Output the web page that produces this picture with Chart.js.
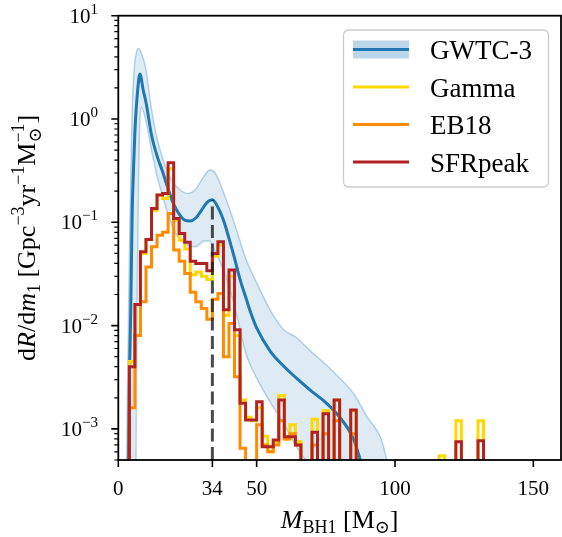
<!DOCTYPE html>
<html>
<head>
<meta charset="utf-8">
<script src="https://cdn.jsdelivr.net/npm/chart.js@4.4.0/dist/chart.umd.min.js"></script>
<style>
  html, body { margin: 0; padding: 0; background: #fff; }
  canvas { display: block; }
</style>
</head>
<body>
<canvas id="massChart" width="562" height="537" style="width:562px;height:537px"></canvas>
<script>
// histogram bin edges (M_sun), 2 M_sun wide
const binEdges = [4, 6, 8, 10, 12, 14, 16, 18, 20, 22, 24, 26, 28, 30, 32, 34, 36, 38, 40, 42,
    44, 46, 48, 50, 52, 54, 56, 58, 60, 62, 64, 66, 68, 70, 72, 74, 76, 78, 80, 82,
    84, 86, 88, 90, 92, 94, 96, 98, 100, 102, 104, 106, 108, 110, 112, 114, 116, 118, 120, 122,
    124, 126, 128, 130, 132];

const gammaRate = [0.0045, 0.016, 0.05, 0.068, 0.13, 0.184, 0.17, 0.33, 0.105, 0.067,
    0.055, 0.031, 0.033, 0.030, 0.028, 0.047, 0.060, 0.0125, 0.030, 0.008,
    0.0019, 0.0013, 0.0012, 0.0016, 0.00085, 0.0006, 0.00075, 0.0021, 0.0008, 0.0011,
    0.00075, 0, 0, 0.00124, 0, 0.0015, 0, 0.0019, 0, 0,
    0.0015, 0, 0, 0, 0, 0, 0, 0, 0, 0,
    0, 0, 0, 0, 0, 0, 0.00055, 0, 0, 0.0012,
    0, 0, 0, 0.0012];

const eb18Rate = [0.0016, 0.008, 0.017, 0.037, 0.058, 0.075, 0.08, 0.122, 0.054, 0.042,
    0.032, 0.021, 0.017, 0.0146, 0.0115, 0.018, 0.0205, 0.005, 0.0105, 0.0032,
    0.00065, 0, 0, 0.0011, 0.0007, 0.0006, 0.0007, 0.0012, 0.0008, 0.0009,
    0.0007, 0, 0, 0.0007, 0, 0.0009, 0, 0.0012, 0, 0,
    0.0009, 0, 0, 0, 0, 0, 0, 0, 0, 0,
    0, 0, 0, 0, 0, 0, 0, 0, 0, 0,
    0, 0, 0, 0];

const sfrRate = [0.004, 0.016, 0.052, 0.068, 0.136, 0.184, 0.19, 0.377, 0.109, 0.078,
    0.064, 0.042, 0.040, 0.040, 0.034, 0.050, 0.065, 0.0142, 0.0345, 0.0091,
    0.00177, 0.00122, 0.00122, 0.00183, 0.00067, 0.00067, 0.00078, 0.0019, 0.00084, 0.00084,
    0.0007, 0, 0, 0.00093, 0, 0.0014, 0, 0.0019, 0, 0,
    0.00152, 0, 0, 0, 0, 0, 0, 0, 0, 0,
    0, 0, 0, 0, 0, 0, 0, 0, 0, 0.00075,
    0, 0, 0, 0.00077];

// GWTC-3 median and 90% band
const medianMass = [3.6, 4, 4.5, 5, 5.5, 6, 7, 7.8, 9, 10, 12, 14, 16, 18, 20, 22, 24, 26, 28, 30,
    32, 34, 36, 38, 40, 42, 44, 46, 48, 50, 55, 60, 65, 70, 75, 80, 85, 88];
const medianRate = [0.0004, 0.003, 0.014, 0.12, 0.33, 0.75, 1.9, 2.73, 1.9, 1.45, 0.7, 0.44, 0.31, 0.21, 0.15, 0.12, 0.105, 0.103, 0.11, 0.13,
    0.155, 0.165, 0.14, 0.105, 0.07, 0.045, 0.028, 0.019, 0.013, 0.0095, 0.0056, 0.004, 0.003, 0.0023, 0.0018, 0.0013, 0.0008, 0.00045];

const bandMass = [3, 4, 5, 6, 6.4, 7, 7.5, 8.4, 10, 12, 14, 16, 18, 20, 22, 25, 28, 31, 33, 35,
    37, 40, 43, 46, 50, 55, 60, 64, 68, 70, 75, 80, 85, 90, 95, 97.5];
const bandHigh = [0.00045, 0.05, 1.2, 3.6, 4.2, 4.8, 4.8, 4.3, 3.0, 1.25, 0.65, 0.42, 0.3, 0.24, 0.21, 0.19, 0.21, 0.28, 0.32, 0.3,
    0.23, 0.14, 0.08, 0.045, 0.026, 0.014, 0.009, 0.0078, 0.0062, 0.0055, 0.0042, 0.0031, 0.0022, 0.0013, 0.0008, 0.00045];
const bandLow = [1e-7, 1e-7, 1e-7, 1e-7, 0.0005, 0.05, 0.5, 1.3, 0.95, 0.5, 0.28, 0.18, 0.12, 0.085, 0.07, 0.06, 0.058, 0.066, 0.066, 0.052,
    0.04, 0.024, 0.012, 0.0055, 0.0031, 0.0018, 0.0011, 0.0007, 0.0005, 0.0004, 1e-7, 1e-7, 1e-7, 1e-7, 1e-7, 1e-7];

// dashed marker at 34 M_sun
const markerMass = [34, 34];
const markerRate = [0.0005, 0.165];

const xTicks = [0, 34, 50, 100, 150];
const yTicks = [1e-3, 1e-2, 1e-1, 1, 10];
const yTickExp = ['\u22123', '\u22122', '\u22121', '0', '1'];

const SERIF = '"Liberation Serif", "DejaVu Serif", serif';
const OFF = 1e-7;

function stepPoints(edges, vals) {
    let pts = [{x: edges[0], y: OFF}];
    for (let i = 0; i < vals.length; i++) {
        pts.push({x: edges[i], y: vals[i] > 0 ? vals[i] : OFF});
    }
    pts.push({x: edges[edges.length - 1], y: OFF});
    return pts;
}
function zip(xs, ys) {
    return xs.map((x, i) => ({x: x, y: ys[i]}));
}

function fontOf(p) {
    return (p.italic ? 'italic ' : '') + p.size + 'px ' + SERIF;
}
function drawRich(ctx, parts, x, y, align) {
    let total = 0;
    parts.forEach(p => {
        ctx.font = fontOf(p);
        p.w = ctx.measureText(p.t).width;
        if (p.over) {
            ctx.font = fontOf({size: p.size});
            p.w = Math.max(p.w, ctx.measureText(p.over).width);
        }
        total += p.w;
    });
    let cx = align === 'center' ? x - total / 2 : (align === 'right' ? x - total : x);
    ctx.textAlign = 'left';
    ctx.textBaseline = 'alphabetic';
    parts.forEach(p => {
        ctx.font = fontOf(p);
        ctx.fillText(p.t, cx, y + (p.dy || 0));
        if (p.over) {
            ctx.font = fontOf({size: p.size});
            ctx.fillText(p.over, cx, y + p.overDy);
        }
        cx += p.w;
    });
}

const axisFrame = {
    id: 'axisFrame',
    afterDatasetsDraw(chart) {
        const ctx = chart.ctx, a = chart.chartArea;
        const xs = chart.scales.x, ys = chart.scales.y;
        ctx.save();
        ctx.strokeStyle = '#000';
        ctx.fillStyle = '#000';

        // major ticks
        ctx.lineWidth = 1.6;
        ctx.beginPath();
        xTicks.forEach(v => {
            const px = xs.getPixelForValue(v);
            ctx.moveTo(px, a.bottom);
            ctx.lineTo(px, a.bottom + 7);
        });
        yTicks.forEach(v => {
            const py = ys.getPixelForValue(v);
            ctx.moveTo(a.left, py);
            ctx.lineTo(a.left - 7, py);
        });
        ctx.stroke();

        // minor log ticks
        ctx.lineWidth = 1.2;
        ctx.beginPath();
        for (let e = -4; e <= 0; e++) {
            for (let m = 2; m <= 9; m++) {
                const v = m * Math.pow(10, e);
                if (v < ys.min * 0.999 || v > ys.max) continue;
                const py = ys.getPixelForValue(v);
                ctx.moveTo(a.left, py);
                ctx.lineTo(a.left - 4, py);
            }
        }
        ctx.stroke();

        // frame
        ctx.lineWidth = 1.8;
        ctx.strokeRect(a.left, a.top, a.right - a.left, a.bottom - a.top);

        // tick labels
        ctx.textAlign = 'center';
        ctx.textBaseline = 'alphabetic';
        ctx.font = '21px ' + SERIF;
        xTicks.forEach(v => {
            ctx.fillText(String(v), xs.getPixelForValue(v), 495);
        });
        yTicks.forEach((v, i) => {
            const py = ys.getPixelForValue(v);
            drawRich(ctx, [
                {t: '10', size: 21},
                {t: yTickExp[i], size: 15, dy: -9}
            ], 98, py + 7, 'right');
        });

        // axis titles
        drawRich(ctx, [
            {t: 'M', size: 26, italic: true},
            {t: 'BH1', size: 18, dy: 5},
            {t: ' [M', size: 26},
            {t: '\u2299', size: 18, dy: 5},
            {t: ']', size: 26}
        ], (a.left + a.right) / 2, 528, 'center');

        ctx.save();
        ctx.translate(35, (a.top + a.bottom) / 2);
        ctx.rotate(-Math.PI / 2);
        drawRich(ctx, [
            {t: 'd', size: 26},
            {t: 'R', size: 26, italic: true},
            {t: '/d', size: 26},
            {t: 'm', size: 26, italic: true},
            {t: '1', size: 18, dy: 5},
            {t: ' [Gpc', size: 26},
            {t: '\u22123', size: 18, dy: -11},
            {t: 'yr', size: 26},
            {t: '\u22121', size: 18, dy: -11},
            {t: 'M', size: 26},
            {t: '\u2299', size: 18, dy: 6, over: '\u22121', overDy: -11},
            {t: ']', size: 26}
        ], 0, 0, 'center');
        ctx.restore();
        ctx.restore();
    },
    afterDraw(chart) {
        const ctx = chart.ctx;
        ctx.save();
        // legend box
        const bx = 343.5, by = 30, bw = 205, bh = 157;
        ctx.beginPath();
        ctx.roundRect(bx, by, bw, bh, 5);
        ctx.fillStyle = 'rgba(255,255,255,0.8)';
        ctx.fill();
        ctx.strokeStyle = '#cccccc';
        ctx.lineWidth = 1.3;
        ctx.stroke();

        const rows = [
            {label: 'GWTC-3', color: '#1f77b4', band: true},
            {label: 'Gamma', color: '#ffd700'},
            {label: 'EB18', color: '#ff8c00'},
            {label: 'SFRpeak', color: '#b22222'}
        ];
        const x0 = 353, x1 = 409;
        rows.forEach((r, i) => {
            const y = 49.5 + i * 37.5;
            if (r.band) {
                ctx.fillStyle = 'rgba(31,119,180,0.3)';
                ctx.fillRect(x0, y - 9, x1 - x0, 18);
            }
            ctx.strokeStyle = r.color;
            ctx.lineWidth = 3;
            ctx.beginPath();
            ctx.moveTo(x0, y);
            ctx.lineTo(x1, y);
            ctx.stroke();
            ctx.fillStyle = '#000';
            ctx.font = '27px ' + SERIF;
            ctx.textAlign = 'left';
            ctx.textBaseline = 'alphabetic';
            ctx.fillText(r.label, 430, y + 9.5);
        });
        ctx.restore();
    }
};

const ctx = document.getElementById('massChart').getContext('2d');

const lineBase = {
    pointRadius: 0,
    pointHoverRadius: 0,
    fill: false
};

const myChart = new Chart(ctx, {
    type: 'line',
    data: {
        datasets: [
            Object.assign({}, lineBase, {
                label: 'GWTC-3 upper',
                data: zip(bandMass, bandHigh),
                borderColor: 'rgba(31,119,180,0.3)',
                borderWidth: 1.5,
                backgroundColor: 'rgba(31,119,180,0.15)',
                fill: '+1',
                cubicInterpolationMode: 'monotone',
                order: 7
            }),
            Object.assign({}, lineBase, {
                label: 'GWTC-3 lower',
                data: zip(bandMass, bandLow),
                borderColor: 'rgba(31,119,180,0.3)',
                borderWidth: 1.5,
                cubicInterpolationMode: 'monotone',
                order: 7
            }),
            Object.assign({}, lineBase, {
                label: 'GWTC-3',
                data: zip(medianMass, medianRate),
                borderColor: '#1f77b4',
                borderWidth: 3,
                cubicInterpolationMode: 'monotone',
                order: 6
            }),
            Object.assign({}, lineBase, {
                label: 'Gamma',
                data: stepPoints(binEdges, gammaRate),
                borderColor: '#ffd700',
                borderWidth: 3,
                stepped: true,
                order: 5
            }),
            Object.assign({}, lineBase, {
                label: 'EB18',
                data: stepPoints(binEdges, eb18Rate),
                borderColor: '#ff8c00',
                borderWidth: 3,
                stepped: true,
                order: 4
            }),
            Object.assign({}, lineBase, {
                label: 'SFRpeak',
                data: stepPoints(binEdges, sfrRate),
                borderColor: '#b22222',
                borderWidth: 3,
                stepped: true,
                order: 3
            }),
            Object.assign({}, lineBase, {
                label: 'marker',
                data: zip(markerMass, markerRate),
                borderColor: 'rgba(30,30,30,0.8)',
                borderWidth: 3,
                borderDash: [13, 5.5],
                order: 2
            })
        ]
    },
    options: {
        responsive: false,
        animation: false,
        devicePixelRatio: 1,
        layout: {
            padding: {left: 118.3, top: 15.7, right: 1, bottom: 77}
        },
        scales: {
            x: {
                type: 'linear',
                min: 0,
                max: 160,
                display: false
            },
            y: {
                type: 'logarithmic',
                min: 0.0005,
                max: 10,
                display: false
            }
        },
        plugins: {
            legend: {display: false},
            tooltip: {enabled: false}
        }
    },
    plugins: [axisFrame]
});
</script>
</body>
</html>
